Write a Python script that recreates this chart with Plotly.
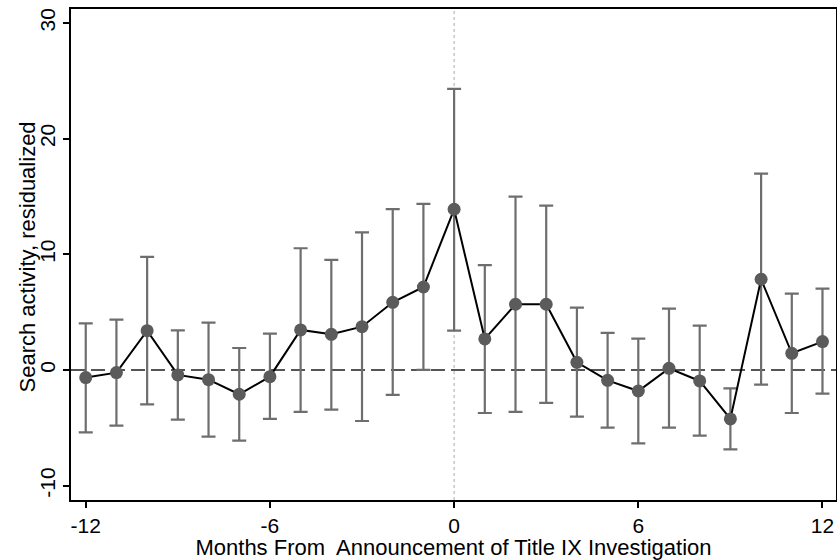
import plotly.graph_objects as go

months = list(range(-12, 13))
estimate = [-0.66, -0.23, 3.40, -0.43, -0.84, -2.10, -0.58, 3.46, 3.08, 3.74, 5.85, 7.17,
            13.89, 2.68, 5.68, 5.68, 0.66, -0.90, -1.82, 0.14, -0.95, -4.23, 7.84, 1.44, 2.45]
upper = [4.03, 4.35, 9.77, 3.43, 4.09, 1.90, 3.14, 10.52, 9.51, 11.90, 13.90, 14.35,
         24.30, 9.07, 14.98, 14.20, 5.38, 3.20, 2.71, 5.30, 3.83, -1.59, 16.97, 6.60, 7.03]
lower = [-5.39, -4.81, -2.97, -4.29, -5.76, -6.11, -4.23, -3.63, -3.43, -4.41, -2.16, 0.00,
         3.40, -3.72, -3.63, -2.85, -4.03, -4.98, -6.34, -4.98, -5.68, -6.86, -1.27, -3.72, -2.05]
x_ticks = [-12, -6, 0, 6, 12]
y_ticks = [-10, 0, 10, 20, 30]

err_plus = [u - e for u, e in zip(upper, estimate)]
err_minus = [e - l for e, l in zip(estimate, lower)]

FONT = "Liberation Sans, Arial, Helvetica, sans-serif"

fig = go.Figure()
fig.add_trace(go.Scatter(
    x=months, y=estimate, mode="markers",
    marker=dict(size=1, color="rgba(0,0,0,0)"),
    error_y=dict(type="data", symmetric=False, array=err_plus, arrayminus=err_minus,
                 color="#6e6e6e", thickness=2.2, width=7),
    showlegend=False, hoverinfo="skip"))
fig.add_trace(go.Scatter(
    x=months, y=estimate, mode="lines+markers",
    line=dict(color="#000000", width=2),
    marker=dict(size=13, color="#5b5b5b"),
    showlegend=False))

fig.add_shape(type="line", xref="paper", yref="y", x0=0, x1=1, y0=0, y1=0,
              line=dict(color="#555555", width=2, dash="14px,6px"), layer="below")
fig.add_shape(type="line", xref="x", yref="paper", x0=0, x1=0, y0=0, y1=1,
              line=dict(color="#aaaaaa", width=1, dash="dot"), layer="below")

fig.add_annotation(text="Search activity, residualized", xref="paper", yref="paper",
                   x=0, y=0.494, xanchor="center", yanchor="middle", xshift=-44,
                   textangle=-90, showarrow=False, font=dict(size=22))

fig.update_layout(
    width=837, height=560,
    margin=dict(l=71, r=1, t=9, b=60),
    paper_bgcolor="white", plot_bgcolor="white",
    font=dict(family=FONT, size=22, color="#000000"),
)
fig.update_xaxes(
    range=[-12.48, 12.44], tickvals=x_ticks, ticktext=[str(v) for v in x_ticks],
    showgrid=False, zeroline=False, automargin=False,
    showline=True, linecolor="#000000", linewidth=2, mirror=True,
    ticks="outside", ticklen=6, tickwidth=1.5, tickcolor="#000000",
    tickfont=dict(size=21),
    title=dict(text="Months From  Announcement of Title IX Investigation",
               font=dict(size=22), standoff=0),
)
fig.update_yaxes(
    range=[-11.24, 31.2], tickvals=y_ticks, ticktext=[str(v) for v in y_ticks],
    showgrid=False, zeroline=False, automargin=False,
    showline=True, linecolor="#000000", linewidth=2, mirror=True,
    ticks="outside", ticklen=6, tickwidth=1.5, tickcolor="#000000",
    tickangle=-90, tickfont=dict(size=21),
)

fig.write_html("out.html", config={"displayModeBar": False},
               post_script="document.body.style.margin='0px';document.body.style.overflow='hidden';")
